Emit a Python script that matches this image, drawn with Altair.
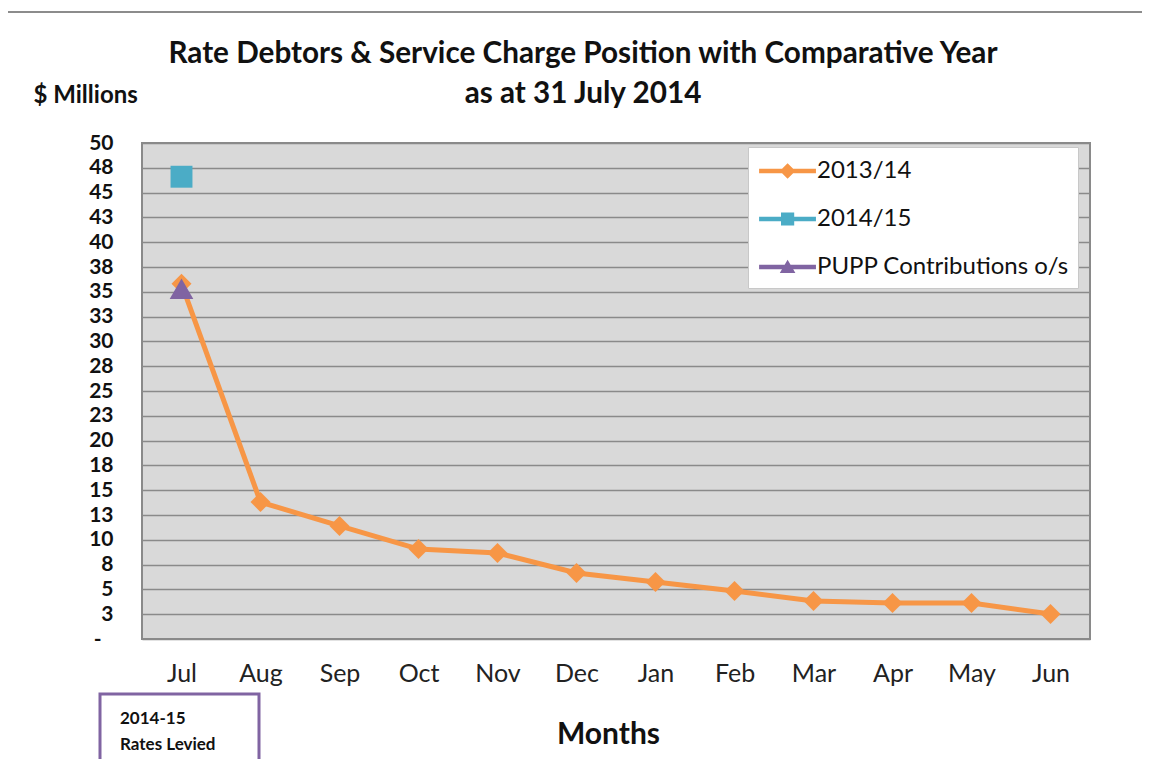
import altair as alt
import pandas as pd

months = ["Jul", "Aug", "Sep", "Oct", "Nov", "Dec", "Jan", "Feb", "Mar", "Apr", "May", "Jun"]
series_names = ["2013/14", "2014/15", "PUPP Contributions o/s"]
values_1314 = [35.8, 13.8, 11.4, 9.07, 8.67, 6.65, 5.75, 4.84, 3.83, 3.63, 3.63, 2.52]
values_1415 = [46.6]
values_pupp = [35.3]
colors = ["#f79646", "#4bacc6", "#8064a2"]
y_ticks = [i * 2.5 for i in range(21)]
note_lines = ["2014-15", "Rates Levied"]

rows = []
for m, v in zip(months, values_1314):
    rows.append({"month": m, "value": v, "series": series_names[0]})
for m, v in zip(months, values_1415):
    rows.append({"month": m, "value": v, "series": series_names[1]})
for m, v in zip(months, values_pupp):
    rows.append({"month": m, "value": v, "series": series_names[2]})
df = pd.DataFrame(rows)
one = pd.DataFrame({"k": [0]})

FONT = "Lato"
W, H = 948, 496

x_enc = alt.X("month:N", sort=months, scale=alt.Scale(domain=months, paddingInner=0, paddingOuter=0),
              axis=alt.Axis(title="Months", labelFont=FONT, labelFontSize=25, labelColor="#222",
                            labelPadding=22, ticks=False, domain=False, labelAngle=0,
                            titleFont=FONT, titleFontSize=30, titleFontWeight="bold",
                            titleColor="#111", titlePadding=33, titleX=466))
y_enc = alt.Y("value:Q", scale=alt.Scale(domain=[0, 50], nice=False),
              axis=alt.Axis(title="$ Millions", values=y_ticks,
                            labelExpr="datum.value == 0 ? '-' : format(round(datum.value), 'd')",
                            labelFont=FONT, labelFontSize=21, labelFontWeight="bold", labelColor="#111",
                            labelPadding={"condition": {"test": "datum.value == 0", "value": 41}, "value": 29},
                            ticks=False, domain=False,
                            grid=True, gridColor="#8a8a8a", gridWidth=1.6,
                            titleAngle=0, titleAlign="left", titleBaseline="middle",
                            titleX=-109, titleY=-48, titleFont=FONT, titleFontSize=24,
                            titleFontWeight="bold", titleColor="#111"))

color_scale = alt.Scale(domain=series_names, range=colors)

outer = alt.Chart(one).mark_rect(fill=None, stroke="#8c8c8c", strokeWidth=2).encode(
    x=alt.value(-135), x2=alt.value(1030), y=alt.value(-131), y2=alt.value(700))

line = alt.Chart(df).transform_filter(
    alt.datum.series == series_names[0]
).mark_line(strokeWidth=5, color=colors[0]).encode(x=x_enc, y=y_enc)

points = alt.Chart(df).mark_point(filled=True, opacity=1, strokeWidth=0).encode(
    x=x_enc, y=y_enc,
    color=alt.Color("series:N", scale=color_scale, legend=None),
    shape=alt.Shape("series:N", scale=alt.Scale(domain=series_names,
                                                range=["diamond", "square", "triangle-up"]), legend=None),
    size=alt.Size("series:N", scale=alt.Scale(domain=series_names, range=[400, 560, 420]), legend=None),
)

bar = "M-0.86,-0.15 L2.93,-0.15 L2.93,0.15 L-0.86,0.15 Z "
legend_paths = [
    bar + "M1.04,-0.52 L1.56,0 L1.04,0.52 L0.52,0 Z",
    bar + "M0.6,-0.44 L1.48,-0.44 L1.48,0.44 L0.6,0.44 Z",
    bar + "M1.04,-0.48 L1.56,0.4 L0.52,0.4 Z",
]

legend_layer = alt.Chart(df).transform_filter("false").mark_point(filled=True, opacity=1, strokeWidth=0).encode(
    x=x_enc, y=y_enc,
    color=alt.Color("series:N", scale=color_scale, title=None),
    shape=alt.Shape("series:N", scale=alt.Scale(domain=series_names, range=legend_paths), title=None),
)

note_box = alt.Chart(one).mark_rect(fill="white", stroke="#8064a2", strokeWidth=3).encode(
    x=alt.value(-42), x2=alt.value(117), y=alt.value(551), y2=alt.value(660))
note_text = alt.Chart(one).mark_text(
    text=note_lines, font=FONT, fontSize=17, fontWeight="bold", color="#111",
    align="left", baseline="middle", lineHeight=26).encode(
    x=alt.value(-22), y=alt.value(576))

chart = alt.layer(outer, line, points, legend_layer, note_box, note_text).resolve_scale(
    color="independent", shape="independent"
).properties(
    width=W, height=H,
    title=alt.Title(text=["Rate Debtors & Service Charge Position with Comparative Year",
                          "as at 31 July 2014"],
                    font=FONT, fontSize=29.7, fontWeight="bold", color="#111",
                    anchor="middle", dx=-33, lineHeight=40, offset=-99),
    padding={"left": 134, "top": 135, "right": 52, "bottom": 120},
    autosize=alt.AutoSizeParams(type="none"),
).configure_view(
    fill="#d9d9d9", stroke="#8a8a8a", strokeWidth=2
).configure_legend(
    orient="none", legendX=606, legendY=4,
    fillColor="white", strokeColor="#c8c8c8", padding=9,
    symbolSize=900, labelFont=FONT, labelFontSize=24, labelColor="#111",
    labelOffset=30, rowPadding=21, symbolStrokeWidth=0, symbolOpacity=1,
    labelLimit=400,
)

chart.save("out.html", embed_options={"renderer": "svg", "actions": False})
